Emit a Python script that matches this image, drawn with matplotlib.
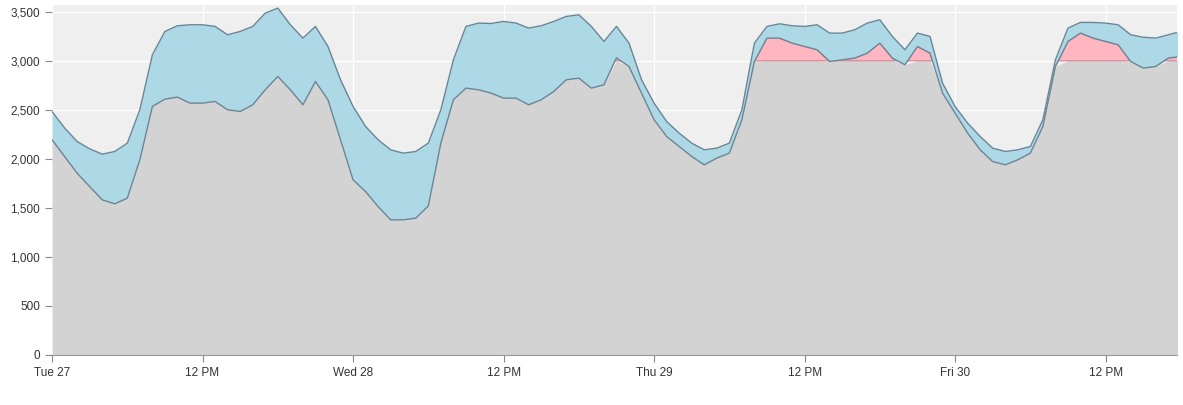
import numpy as np
import pandas as pd
import matplotlib
matplotlib.use('Agg')
import matplotlib.pyplot as plt
import matplotlib.dates as mdates
from matplotlib.ticker import FuncFormatter

### DATA (hourly, starting Tue 27 00:00) ###
upper = [2482, 2315, 2177, 2102, 2048, 2075, 2160, 2500, 3061, 3299, 3357, 3367, 3367, 3350, 3265,
         3299, 3350, 3486, 3537, 3367, 3231, 3350, 3146, 2806, 2534, 2330, 2194, 2092, 2058, 2075,
         2160, 2500, 3010, 3350, 3384, 3380, 3401, 3384, 3333, 3357, 3401, 3452, 3469, 3350, 3197,
         3350, 3180, 2806, 2568, 2381, 2262, 2160, 2092, 2109, 2160, 2500, 3180, 3350, 3377, 3357,
         3350, 3367, 3282, 3282, 3316, 3384, 3418, 3248, 3112, 3282, 3248, 2772, 2534, 2364, 2228,
         2109, 2075, 2092, 2126, 2398, 3010, 3333, 3391, 3391, 3384, 3367, 3265, 3240, 3231, 3265,
         3299]
lower = [2194, 2024, 1854, 1717, 1582, 1541, 1599, 1990, 2534, 2609, 2629, 2568, 2568, 2585, 2500,
         2483, 2551, 2704, 2840, 2704, 2551, 2789, 2602, 2194, 1786, 1666, 1513, 1378, 1378, 1395,
         1520, 2160, 2602, 2721, 2704, 2670, 2619, 2619, 2551, 2602, 2687, 2806, 2823, 2721, 2755,
         3030, 2942, 2670, 2398, 2228, 2126, 2024, 1939, 2007, 2058, 2398, 2993, 3231, 3231, 3180,
         3146, 3112, 2993, 3010, 3027, 3078, 3180, 3027, 2959, 3146, 3078, 2670, 2466, 2262, 2092,
         1972, 1939, 1990, 2058, 2330, 2942, 3197, 3282, 3231, 3197, 3163, 2993, 2925, 2942, 3027,
         3044]
capacity = 3000
ytick_vals = [0, 500, 1000, 1500, 2000, 2500, 3000, 3500]

times = pd.date_range('2016-09-27 00:00', periods=len(upper), freq='h')
upper = np.array(upper, dtype=float)
lower = np.array(lower, dtype=float)

### PLOT ###
fig = plt.figure(figsize=(11.83, 4.05), dpi=100)
ax = fig.add_axes([0.044, 0.1235, 0.951, 0.8645])
ax.set_facecolor('#efefef')

line_col = '#6b8595'
base = np.minimum(lower, capacity)

#Gray under the capacity, pink for the part above it, blue between the two series
ax.fill_between(times, 0, base, color='#d3d3d3', lw=0, zorder=2)
ax.fill_between(times, capacity, lower, where=lower > capacity, interpolate=True,
                facecolor='#ffb6c1', edgecolor='#d98f9b', lw=1.0, zorder=2)
ax.fill_between(times, lower, upper, color='#add8e6', lw=0, zorder=3)
ax.plot(times, upper, color=line_col, lw=1.0, zorder=4)
ax.plot(times, lower, color=line_col, lw=1.0, zorder=4)

#Axis limits & ticks
t0 = times[0]
ax.set_xlim(t0, t0 + pd.Timedelta(hours=89.7))
ax.set_ylim(0, 3570)
ax.set_yticks(ytick_vals)
ax.yaxis.set_major_formatter(FuncFormatter(lambda v, p: f'{int(v):,}'))

ax.xaxis.set_major_locator(mdates.HourLocator(byhour=[0, 12]))
def fmt_date(x, pos):
    d = mdates.num2date(x)
    if d.hour == 12:
        return '12 PM'
    return d.strftime('%a %d')
ax.xaxis.set_major_formatter(FuncFormatter(fmt_date))

ax.grid(True, color='white', lw=0.9, zorder=1)
ax.set_axisbelow(True)
for s in ['top', 'right', 'left']:
    ax.spines[s].set_visible(False)
ax.spines['bottom'].set_color('#999999')
ax.tick_params(axis='both', colors='#888888', length=5, width=0.8, labelsize=8.5,
               labelcolor='#333333')
for lab in ax.get_xticklabels() + ax.get_yticklabels():
    lab.set_fontfamily('Liberation Sans')

fig.savefig('out.png', dpi=100)
